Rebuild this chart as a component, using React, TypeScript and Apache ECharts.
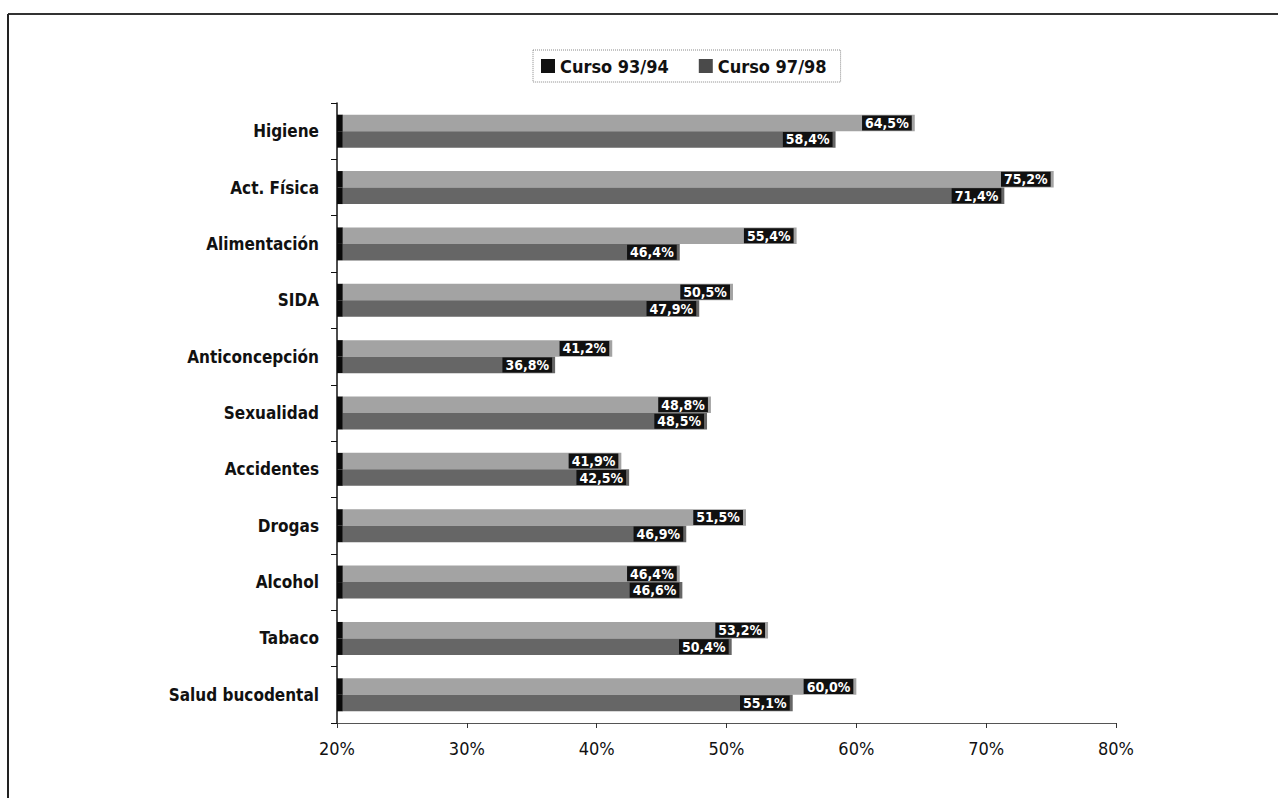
import React, { useEffect, useRef } from "react";
import * as echarts from "echarts";

const categories = [
  "Higiene",
  "Act. Física",
  "Alimentación",
  "SIDA",
  "Anticoncepción",
  "Sexualidad",
  "Accidentes",
  "Drogas",
  "Alcohol",
  "Tabaco",
  "Salud bucodental",
];
const curso9394 = [58.4, 71.4, 46.4, 47.9, 36.8, 48.5, 42.5, 46.9, 46.6, 50.4, 55.1];
const curso9798 = [64.5, 75.2, 55.4, 50.5, 41.2, 48.8, 41.9, 51.5, 46.4, 53.2, 60.0];
const xTicks = [20, 30, 40, 50, 60, 70, 80];
const seriesNames = ["Curso 93/94", "Curso 97/98"];

const AXIS_MIN = xTicks[0];
const AXIS_MAX = xTicks[xTicks.length - 1];
const EDGE = 0.45;

const FONT = "'Liberation Sans Narrow', 'Arial Narrow', 'DejaVu Sans Condensed', 'Roboto Condensed', sans-serif";

const fmt = (v: number) => v.toFixed(1).replace(".", ",") + "%";

export default function App() {
  const ref = useRef<HTMLDivElement>(null);
  useEffect(() => {
    if (!ref.current) return;
    const chart = echarts.init(ref.current, null, { renderer: "svg" });

    const makeStack = (name: string, values: number[], color: string, stack: string) => [
      {
        name: name + " edge",
        type: "bar",
        stack,
        data: values.map(() => AXIS_MIN + EDGE),
        itemStyle: { color: "#0a0a0a" },
        barWidth: 16.5,
        barGap: "0%",
        silent: true,
      },
      {
        name,
        type: "bar",
        stack,
        data: values.map((v) => v - AXIS_MIN - EDGE),
        itemStyle: { color },
        barWidth: 16.5,
        barGap: "0%",
        label: {
          show: true,
          position: "insideRight",
          offset: [2, 0],
          formatter: (p: any) => fmt(values[p.dataIndex]),
          color: "#ffffff",
          fontFamily: FONT,
          fontWeight: "bold",
          fontSize: 14,
          backgroundColor: "#111111",
          padding: [1, 3, 0, 3],
        },
      },
    ];

    chart.setOption({
      animation: false,
      backgroundColor: "#ffffff",
      grid: { left: 337, right: 162, top: 103, bottom: 75, containLabel: false },
      legend: {
        left: 533,
        top: 50,
        data: [
          { name: seriesNames[0], itemStyle: { color: "#111111" } },
          { name: seriesNames[1], itemStyle: { color: "#4a4a4a" } },
        ],
        icon: "rect",
        itemWidth: 14,
        itemHeight: 14,
        itemGap: 30,
        padding: [7, 14, 7, 8],
        borderColor: "#888",
        borderWidth: 1,
        borderType: "dotted",
        textStyle: { fontFamily: FONT, fontWeight: "bold", fontSize: 18, color: "#111" },
      },
      xAxis: {
        type: "value",
        min: AXIS_MIN,
        max: AXIS_MAX,
        interval: 10,
        axisLine: { show: true, lineStyle: { color: "#555", width: 1 } },
        axisTick: { show: true, length: 5, lineStyle: { color: "#333" } },
        splitLine: { show: false },
        axisLabel: {
          formatter: "{value}%",
          fontFamily: FONT,
          fontSize: 18,
          color: "#111",
          margin: 16,
        },
      },
      yAxis: {
        type: "category",
        inverse: true,
        data: categories,
        axisLine: { show: true, lineStyle: { color: "#111", width: 1.5 } },
        axisTick: { show: true, length: 6, lineStyle: { color: "#111" } },
        axisLabel: {
          fontFamily: FONT,
          fontWeight: "bold",
          fontSize: 17,
          color: "#111",
          margin: 18,
        },
      },
      graphic: [
        { type: "line", shape: { x1: 8, y1: 14, x2: 1278, y2: 14 }, style: { stroke: "#333", lineWidth: 2 } },
        { type: "line", shape: { x1: 8, y1: 14, x2: 8, y2: 798 }, style: { stroke: "#222", lineWidth: 2 } },
      ],
      series: [
        ...makeStack(seriesNames[1], curso9798, "#a3a3a3", "b"),
        ...makeStack(seriesNames[0], curso9394, "#666666", "a"),
      ],
    });
    return () => chart.dispose();
  }, []);
  return (
    <div
      ref={ref}
      style={{ position: "fixed", left: 0, top: 0, width: 1278, height: 798 }}
    />
  );
}
